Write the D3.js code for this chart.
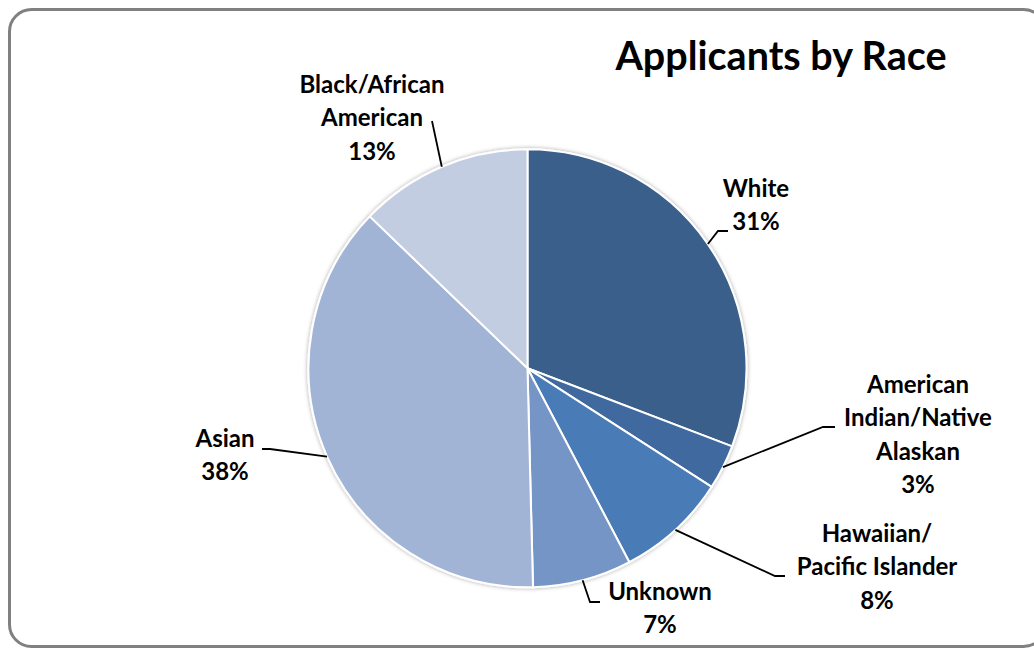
<!DOCTYPE html>
<html>
<head>
<meta charset="utf-8">
<script src="https://cdn.jsdelivr.net/npm/d3@7/dist/d3.min.js"></script>
<style>
  html, body { margin: 0; padding: 0; background: #fff; }
  svg { display: block; }
  text { font-family: Lato, "Open Sans", sans-serif; font-weight: bold; fill: #000; }
</style>
</head>
<body>
<svg id="chart" width="1034" height="649"></svg>
<script>
// ---- data ----
const categories = ["White", "American Indian/Native Alaskan", "Hawaiian/ Pacific Islander", "Unknown", "Asian", "Black/African American"];
const values = [30.8, 3.3, 8.2, 7.3, 37.6, 12.8];
const labelLines = [
  ["White"],
  ["American", "Indian/Native", "Alaskan"],
  ["Hawaiian/", "Pacific Islander"],
  ["Unknown"],
  ["Asian"],
  ["Black/African", "American"]
];
const colors = ["#3A5F8B", "#3F69A0", "#4A7BB6", "#7495C6", "#A2B4D5", "#C3CDE2"];

// ---- layout (label placement, Excel-style manual positions) ----
const labelLayout = [
  { cx: 756, y0: 197, elbow: [718, 231], end: [728, 231] },
  { cx: 918, y0: 393, elbow: [823, 427], end: [835, 427] },
  { cx: 877, y0: 542, elbow: [775, 576], end: [785, 576] },
  { cx: 660, y0: 600, elbow: [590, 602], end: [600, 602] },
  { cx: 225, y0: 447, elbow: [270, 449], end: [262, 449] },
  { cx: 372, y0: 93,  elbow: [432, 121], end: [432, 121] }
];
const lineH = 33.3;

const svg = d3.select("#chart");

// frame
svg.append("rect")
  .attr("x", 9.5).attr("y", 9.5)
  .attr("width", 1036).attr("height", 637)
  .attr("rx", 22).attr("ry", 22)
  .attr("fill", "#fff")
  .attr("stroke", "#808080")
  .attr("stroke-width", 3);

// title
svg.append("text")
  .attr("x", 781).attr("y", 70)
  .attr("text-anchor", "middle")
  .style("font-size", "39.5px")
  .text("Applicants by Race");

// shadow filter
const defs = svg.append("defs");
const f = defs.append("filter").attr("id", "sh").attr("x", "-10%").attr("y", "-10%").attr("width", "120%").attr("height", "120%");
f.append("feDropShadow").attr("dx", 0).attr("dy", 0).attr("stdDeviation", 2.2)
  .attr("flood-color", "#000").attr("flood-opacity", 0.35);

const cx = 527.5, cy = 368.3, R = 219;
const pie = d3.pie().sort(null).value(d => d)(values);
const arc = d3.arc().innerRadius(0).outerRadius(R);
const edgeArc = d3.arc().innerRadius(R).outerRadius(R);

const g = svg.append("g").attr("transform", `translate(${cx},${cy})`);
g.append("g").attr("filter", "url(#sh)")
  .selectAll("path").data(pie).join("path")
  .attr("d", arc)
  .attr("fill", (d, i) => colors[i])
  .attr("stroke", "#fff")
  .attr("stroke-width", 2)
  .attr("stroke-linejoin", "round");

// leader lines
const line = d3.line();
pie.forEach((d, i) => {
  const c = edgeArc.centroid(d);
  const L = labelLayout[i];
  const pts = [[c[0] + cx, c[1] + cy], L.elbow, L.end];
  svg.append("path")
    .attr("d", line(pts))
    .attr("fill", "none")
    .attr("stroke", "#000")
    .attr("stroke-width", 1.8);
});

// labels
pie.forEach((d, i) => {
  const L = labelLayout[i];
  const lines = labelLines[i].concat([Math.round(values[i]) + "%"]);
  const t = svg.append("text")
    .attr("text-anchor", "middle")
    .style("font-size", "24px");
  lines.forEach((s, k) => {
    t.append("tspan").attr("x", L.cx).attr("y", L.y0 + k * lineH).text(s);
  });
});
</script>
</body>
</html>
